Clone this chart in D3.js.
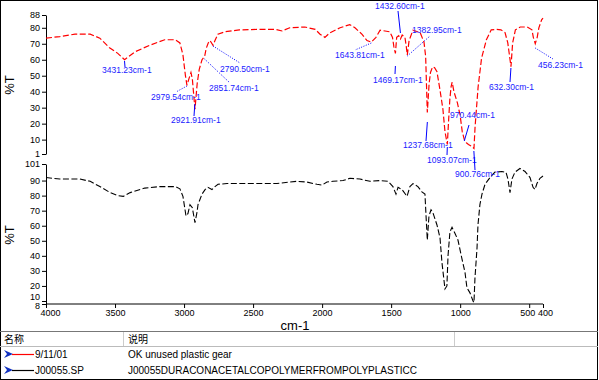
<!DOCTYPE html>
<html><head><meta charset="utf-8">
<script src="https://cdn.jsdelivr.net/npm/d3@7/dist/d3.min.js"></script>
<style>
body{margin:0;background:#fff;}
svg{display:block;font-family:"Liberation Sans",Arial,sans-serif;}
</style></head>
<body><svg id="c" width="599" height="380"></svg>
<script>
// ---- data ----
const topTicks = [88,80,70,60,50,40,30,20,10,1];
const bottomTicks = [101,90,80,70,60,50,40,30,20,10,8];
const xTicks = [4000,3500,3000,2500,2000,1500,1000,500,400];

const sampleWn = [4000,3900,3790,3680,3610,3540,3480,3431,3355,3250,3140,3065,3030,3008,2990,2979,2965,2950,2940,2930,2921,2905,2890,2870,2851,2840,2825,2812,2790,2776,2755,2705,2600,2450,2340,2290,2235,2125,2050,2015,1980,1945,1870,1800,1762,1712,1675,1644,1610,1580,1510,1490,1480,1469,1460,1445,1432,1420,1400,1390,1383,1370,1342,1290,1262,1250,1238,1225,1215,1200,1185,1168,1146,1125,1110,1093,1085,1075,1066,1058,1045,1020,1000,985,970,955,940,920,900,892,870,845,810,775,740,705,675,655,632,620,600,565,515,480,470,456,442,430,410,400];
const sampleT = [73.5,74.5,76,76,73.5,67.5,64,60,65,69,72.5,72.5,70.5,63,50,44,48,52,48,38,29,45,54,60,62,67,70.5,72,69,72,76,77.5,78.7,79,79,78,80,80.5,79,76,74,76.8,80,82,80,76,72,71,74,78.5,77.5,74,68,64,74,75,73,75.5,74,68,63,72,78.5,77,71,62,27,45,52,55.5,55,52.5,41,29,15,7,20,35,43,46,40,33,25,15,10,8,7,6,4.5,18,43,61,72.5,78.7,79,78.7,77,70.5,55.7,70.5,78.7,80.5,80.5,78.7,74,70,74,80,85,86];

const refWn = [4000,3900,3755,3680,3610,3535,3480,3440,3390,3285,3175,3065,3030,3008,2986,2972,2957,2940,2921,2906,2899,2870,2848,2827,2798,2776,2754,2689,2508,2327,2233,2182,2110,2037,2001,1965,1921,1849,1798,1726,1653,1581,1523,1487,1465,1450,1421,1385,1364,1342,1306,1277,1255,1248,1238,1226,1211,1197,1168,1146,1132,1110,1096,1088,1074,1059,1038,1016,987,965,951,929,907,900,893,878,871,857,842,820,784,748,697,668,654,639,625,603,567,530,494,472,458,444,422,400];
const refT = [92,91,91,89.5,86,82,80,79.5,82,85,86,86,84.5,79.5,66.5,68,74,72,62,69,74,81,84,85.5,84,86,87.5,88,88,88,89,89.5,89,87.5,87,89,89.5,90,91.5,91,89.5,90,89.5,86,81,85.5,84,79.5,86,88,86,82.5,81,68,50.5,66.5,70.6,68.5,60.5,52,35.6,18,20,40,56,59,55,50.5,38,29,18.8,15.4,10,9,25,45,60.5,74,81,87.5,92,95.6,96,95.5,91,82,91,95.6,98,96,92,85.5,84,88,91.5,93];

const peakWn = [3431.23,2979.54,2921.91,2851.74,2790.50,1643.81,1432.60,1469.17,1382.95,1237.68,1093.07,970.44,900.76,632.30,456.23];
const peakLabels = peakWn.map(d => d.toFixed(2) + "cm-1");

const legendNames = ["9/11/01","J00055.SP"];
const legendDesc = ["OK unused plastic gear","J00055DURACONACETALCOPOLYMERFROMPOLYPLASTICC"];
const legendColors = ["#ff0000","#000000"];

// ---- layout (pixels) ----
const annotLayout = [
  {tx:102,ty:73, sy:61, ex:125,ey:67, dot:false},
  {tx:151,ty:100,sy:86, ex:176,ey:92, dot:true},
  {tx:171,ty:123,sy:104,ex:194,ey:116,dot:false},
  {tx:209,ty:91, sy:59, ex:230,ey:83, dot:true},
  {tx:220,ty:72, sy:46, ex:240,ey:63, dot:true},
  {tx:335,ty:58, sy:43, ex:355,ey:50, dot:true},
  {tx:375,ty:9,  sy:33, ex:398,ey:11, dot:false},
  {tx:373,ty:83, sy:66, ex:395,ey:74, dot:false},
  {tx:412,ty:33, sy:56, ex:430,ey:36, dot:true},
  {tx:403,ty:148,sy:122,ex:426,ey:141,dot:false},
  {tx:427,ty:163,sy:147,ex:447,ey:155,dot:false},
  {tx:450,ty:118,sy:141,ex:469,ey:125,dot:false},
  {tx:455,ty:177,sy:151,ex:475,ey:170,dot:false},
  {tx:489,ty:90, sy:68, ex:510,ey:82, dot:false},
  {tx:538,ty:68, sy:48, ex:553,ey:59, dot:true}
];
// per-tick label nudges (px) for crowded ticks
const bottomLabelShift = {10:-4, 8:2};
const xLabelShift = {4000:4, 500:-2, 400:2};

const svg = d3.select("#c");
const W = 599, H = 380;

const x = d3.scaleLinear().domain([4000,400]).range([46,543]);
const yTop = d3.scaleLinear().domain([1,88]).range([154,15]);
const yBot = d3.scaleLinear().domain([8,101]).range([304,164]);

// border
svg.append("rect").attr("x",0.5).attr("y",0.5).attr("width",W-2).attr("height",H-1)
  .attr("fill","none").attr("stroke","#000").attr("stroke-width",1);

function yAxis(scale, ticks, shifts){
  const g = svg.append("g").attr("transform","translate(46,0)")
    .call(d3.axisLeft(scale).tickValues(ticks).tickSize(4).tickSizeOuter(0).tickFormat(d3.format("d")));
  g.select(".domain").attr("stroke","#000");
  g.selectAll("text").attr("font-size","9px").attr("fill","#000").attr("dx","1")
    .attr("y", d => (shifts && shifts[d]) ? shifts[d] : 0);
  return g;
}
yAxis(yTop, topTicks, null);
yAxis(yBot, bottomTicks, bottomLabelShift);

const gx = svg.append("g").attr("transform","translate(0,304)")
  .call(d3.axisBottom(x).tickValues(xTicks).tickSize(4).tickSizeOuter(0).tickFormat(d3.format("d")));
gx.selectAll("text").attr("font-size","9px").attr("fill","#000").attr("dy","0.55em")
  .attr("x", d => xLabelShift[d] || 0);
gx.select(".domain").attr("d","M46,0H543");

// axis titles
svg.append("text").attr("transform","translate(14,85) rotate(-90)").attr("text-anchor","middle")
  .attr("font-size","13px").text("%T");
svg.append("text").attr("transform","translate(14,235) rotate(-90)").attr("text-anchor","middle")
  .attr("font-size","13px").text("%T");
svg.append("text").attr("x",295).attr("y",330).attr("text-anchor","middle")
  .attr("font-size","13px").text("cm-1");

// spectra
const topData = sampleWn.map((w,i)=>[w,sampleT[i]]);
const botData = refWn.map((w,i)=>[w,refT[i]]);
svg.append("path").datum(topData)
  .attr("d", d3.line().x(d=>x(d[0])).y(d=>yTop(d[1])))
  .attr("fill","none").attr("stroke","#ff0000").attr("stroke-width",1.2).attr("stroke-dasharray","6,2.5");
svg.append("path").datum(botData)
  .attr("d", d3.line().x(d=>x(d[0])).y(d=>yBot(d[1])))
  .attr("fill","none").attr("stroke","#000").attr("stroke-width",1.1).attr("stroke-dasharray","6,2.5");

// annotations
const ag = svg.append("g");
peakWn.forEach((w,i)=>{
  const L = annotLayout[i];
  const px = x(w);
  ag.append("line").attr("x1",px).attr("y1",L.sy).attr("x2",L.ex).attr("y2",L.ey)
    .attr("stroke","#0000ff").attr("stroke-width",1)
    .attr("stroke-dasharray", L.dot ? "1,1.5" : null);
  ag.append("text").attr("x",L.tx).attr("y",L.ty).attr("font-size","8.5px")
    .attr("fill","#2020ff").text(peakLabels[i]);
});

// table
const tg = svg.append("g");
tg.append("line").attr("x1",0).attr("x2",W-1).attr("y1",331.5).attr("y2",331.5).attr("stroke","#777");
tg.append("line").attr("x1",0).attr("x2",W-1).attr("y1",346.5).attr("y2",346.5).attr("stroke","#bbb");
tg.append("line").attr("x1",123.5).attr("x2",123.5).attr("y1",332).attr("y2",346).attr("stroke","#ccc");
tg.append("line").attr("x1",454.5).attr("x2",454.5).attr("y1",332).attr("y2",346).attr("stroke","#ccc");
tg.append("text").attr("x",4).attr("y",343).attr("font-size","10px")
  .attr("font-family","'Noto Sans CJK SC',sans-serif").text("名称");
tg.append("text").attr("x",128).attr("y",343).attr("font-size","10px")
  .attr("font-family","'Noto Sans CJK SC',sans-serif").text("说明");
legendNames.forEach((n,i)=>{
  const yy = 354 + i*16;
  tg.append("path").attr("d",`M4,${yy-4}L13,${yy}L4,${yy+4}L7,${yy}Z`).attr("fill","#1030c0");
  tg.append("line").attr("x1",12).attr("x2",34).attr("y1",yy+0.5).attr("y2",yy+0.5)
    .attr("stroke",legendColors[i]).attr("stroke-width",1.2);
  tg.append("text").attr("x",35).attr("y",yy+4).attr("font-size","10px").text(n);
  tg.append("text").attr("x",128).attr("y",yy+4).attr("font-size","10px").text(legendDesc[i]);
});
</script></body></html>
